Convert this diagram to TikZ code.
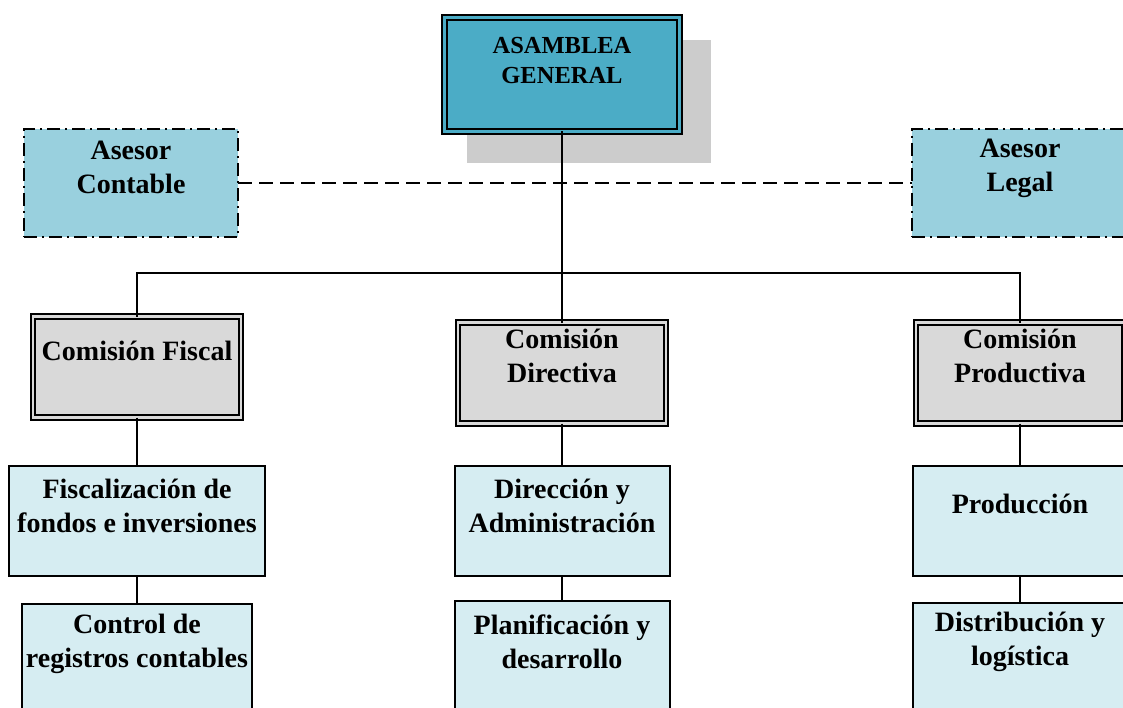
\documentclass[tikz,border=0pt]{standalone}
\usepackage{fontspec}
\setmainfont{Liberation Serif}
\definecolor{topblue}{HTML}{4BACC6}
\definecolor{asesorblue}{HTML}{99D0DE}
\definecolor{lightblue}{HTML}{D6EDF2}
\definecolor{comgray}{HTML}{D9D9D9}
\definecolor{shadowgray}{HTML}{CCCCCC}
\tikzset{
  base/.style={rectangle, inner sep=0pt, outer sep=0pt},
  topbox/.style={base, fill=topblue, draw=black, line width=2pt, double=topblue, double distance=2.8pt, minimum width=235pt, minimum height=114pt},
  shadowbox/.style={base, fill=shadowgray, minimum width=244pt, minimum height=123pt},
  asesorbox/.style={base, fill=asesorblue, draw=black, line width=2.2pt, dash pattern=on 13pt off 5pt on 2pt off 5pt, minimum width=214pt, minimum height=108pt},
  combox/.style={base, fill=comgray, draw=black, line width=2pt, double=comgray, double distance=2.8pt, minimum width=208pt, minimum height=101pt},
  unitbox/.style={base, fill=lightblue, draw=black, line width=2pt, minimum height=110pt},
  txt/.style={align=center, font=\fontsize{28}{34}\selectfont\bfseries, inner sep=0pt},
  toptxt/.style={align=center, font=\fontsize{24.5}{30}\selectfont\bfseries, inner sep=0pt},
  link/.style={draw=black, line width=2pt},
  dashlink/.style={draw=black, line width=2pt, dash pattern=on 14pt off 7pt}
}
\begin{document}
\begin{tikzpicture}[x=1pt, y=-1pt]
\useasboundingbox (0,0) rectangle (1123,708);
\clip (0,0) rectangle (1123,708);
% shadow
\node[shadowbox] (shadow) at (589,101.5) {};
% top
\node[topbox] (top) at (562,74.5) {};
\node[toptxt] (topt) at (562,61) {ASAMBLEA\\GENERAL};
% asesores
\node[asesorbox] (ac) at (131,183) {};
\node[txt] (act) at (131,167) {Asesor\\Contable};
\node[asesorbox] (al) at (1019,183) {};
\node[txt] (alt) at (1020,168.5) {Asesor\\Legal};
% comisiones
\node[combox] (cf) at (137,367) {};
\node[txt] (cft) at (137,351) {Comisión Fiscal};
\node[combox] (cd) at (562,373) {};
\node[txt] (cdt) at (562,356) {Comisión\\Directiva};
\node[combox] (cp) at (1020,373) {};
\node[txt] (cpt) at (1020,356) {Comisión\\Productiva};
% nivel 3
\node[unitbox, minimum width=256pt] (fi) at (137,521) {};
\node[txt] (fit) at (137,506) {Fiscalización de\\fondos e inversiones};
\node[unitbox, minimum width=215pt] (di) at (562,521) {};
\node[txt] (dit) at (562,506) {Dirección y\\Administración};
\node[unitbox, minimum width=215pt] (pr) at (1020,521) {};
\node[txt] (prt) at (1020,504) {Producción};
% nivel 4
\node[unitbox, minimum width=230pt] (co) at (137,659) {};
\node[txt] (cot) at (137,644) {Control de\\registros contables};
\node[unitbox, minimum width=215pt] (pl) at (562,656) {};
\node[txt] (plt) at (562,642) {Planificación y\\desarrollo};
\node[unitbox, minimum width=215pt] (ds) at (1020,658) {};
\node[txt] (dst) at (1020,642) {Distribución y\\logística};
% connectors
\coordinate (bus) at (562,273);
\draw[link] (top.south) -- (bus);
\draw[link] (cf.north) |- (bus) -| (cp.north);
\draw[link] (bus) -- (cd.north);
\draw[dashlink] (ac.east) -- (al.west);
\draw[link] (cf.south) -- (fi.north);
\draw[link] (cd.south) -- (di.north);
\draw[link] (cp.south) -- (pr.north);
\draw[link] (fi.south) -- (co.north);
\draw[link] (di.south) -- (pl.north);
\draw[link] (pr.south) -- (ds.north);
\end{tikzpicture}
\end{document}
